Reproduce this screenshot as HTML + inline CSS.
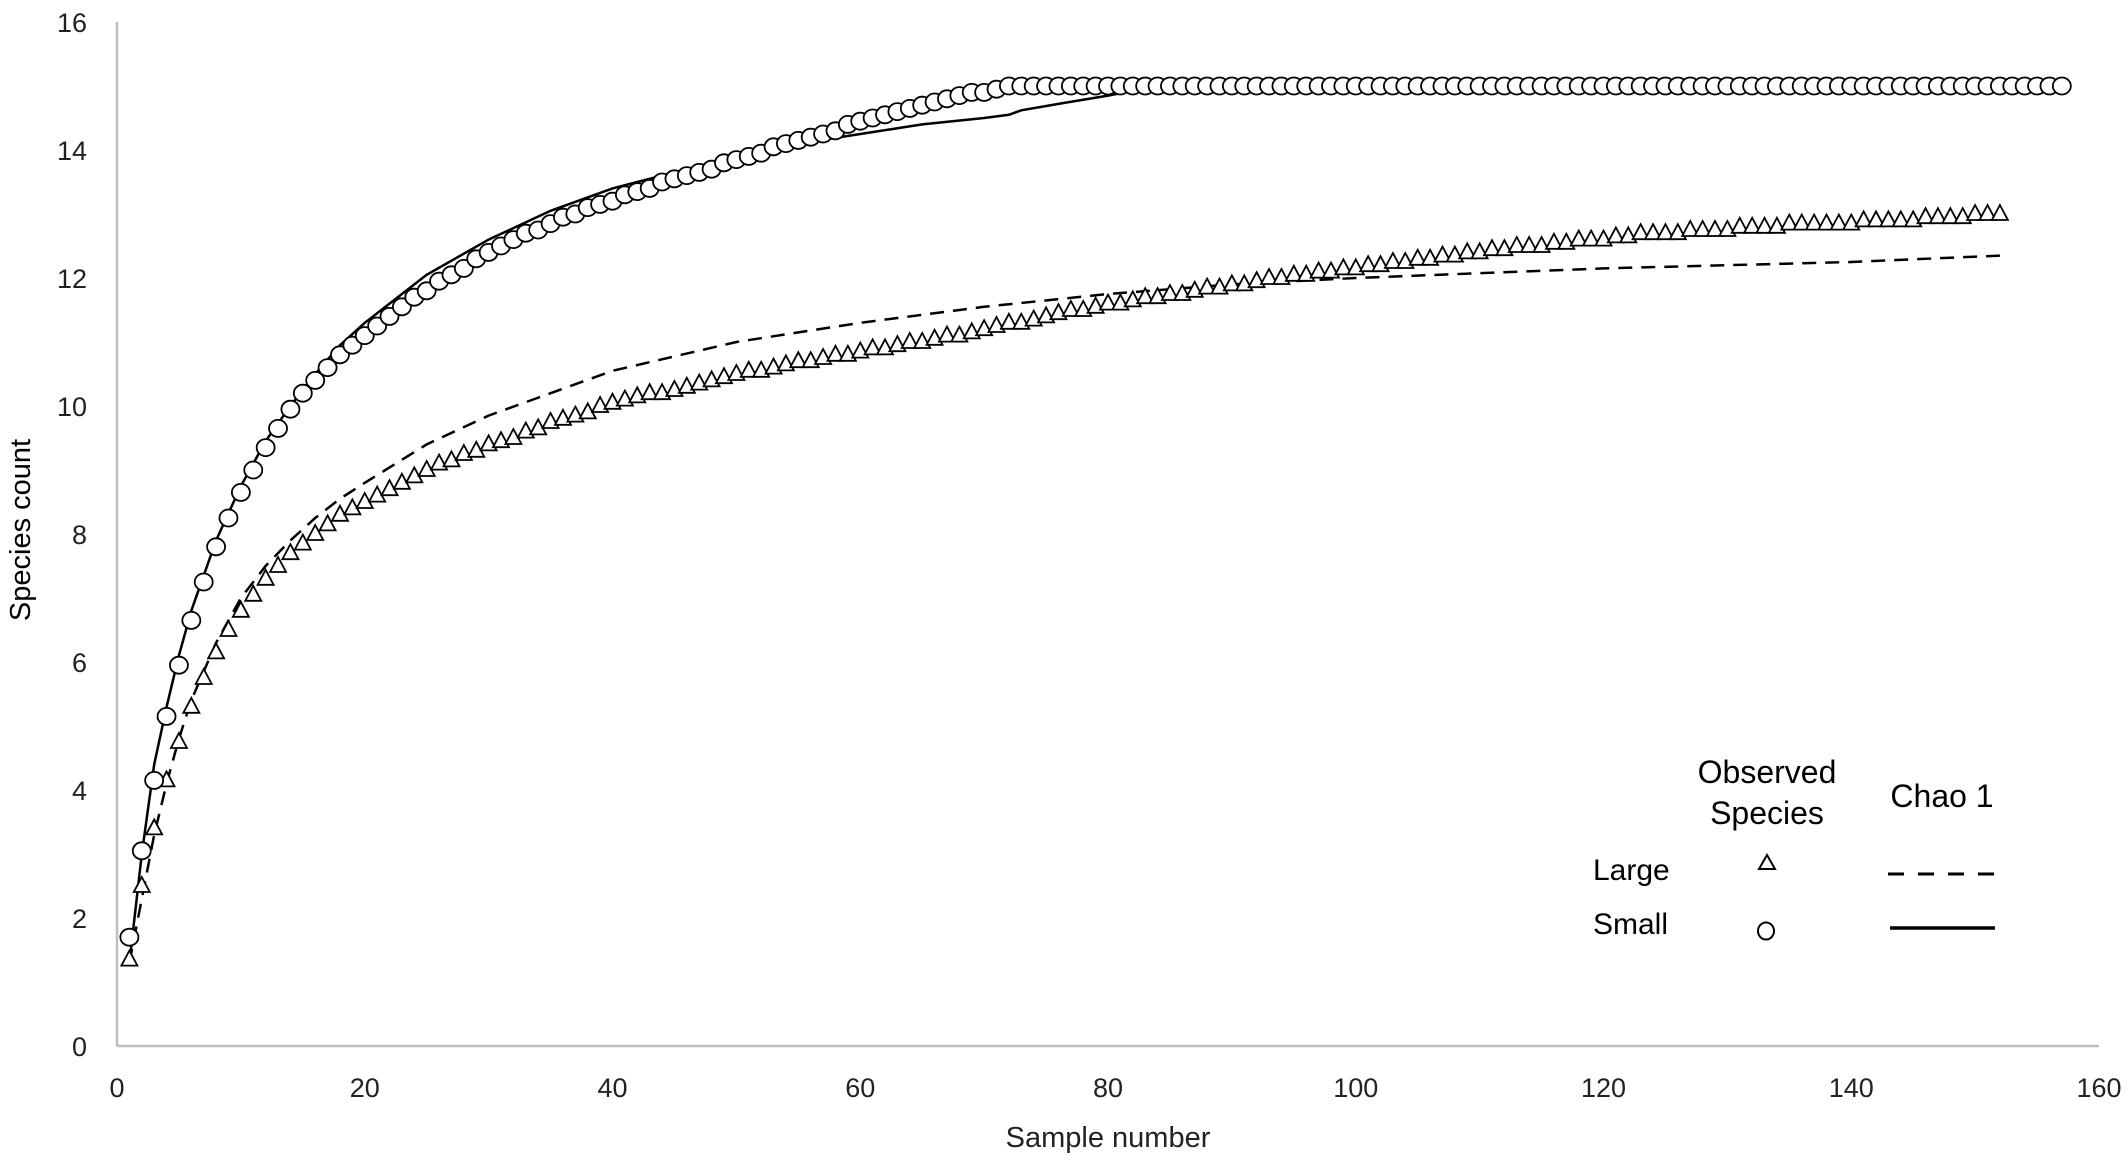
<!DOCTYPE html>
<html><head><meta charset="utf-8"><style>
html,body{margin:0;padding:0;background:#fff}
svg{display:block;font-family:"Liberation Sans",sans-serif}
</style></head><body>
<svg id="chart" width="2128" height="1163" viewBox="0 0 2128 1163" xmlns="http://www.w3.org/2000/svg">
<g id="axes"></g>
<g id="series"></g>
<text transform="translate(30,530) rotate(-90)" text-anchor="middle" font-family="Liberation Sans Narrow, Liberation Sans, sans-serif" font-size="29" fill="#000">Species count</text>
<text x="1108" y="1147" text-anchor="middle" font-size="29" fill="#222">Sample number</text>
<g font-size="32" fill="#000">
<text x="1767" y="783" text-anchor="middle">Observed</text>
<text x="1767" y="824" text-anchor="middle">Species</text>
<text x="1942" y="807" text-anchor="middle">Chao 1</text>
<text x="1593" y="880" font-size="30">Large</text>
<text x="1593" y="934" font-size="30">Small</text>
<polygon points="1767,855 1775,869 1759,869" fill="none" stroke="#000" stroke-width="2"/>
<ellipse cx="1766" cy="931" rx="8" ry="8.5" fill="none" stroke="#000" stroke-width="2"/>
<line x1="1888" y1="874" x2="1995" y2="874" stroke="#000" stroke-width="3" stroke-dasharray="16,14"/>
<line x1="1890" y1="928" x2="1995" y2="928" stroke="#000" stroke-width="3.5"/>
</g>
</svg>
<script>
const xTicks=[0,20,40,60,80,100,120,140,160];
const yTicks=[0,2,4,6,8,10,12,14,16];
const largeObs=[1.35,2.5,3.4,4.15,4.75,5.3,5.75,6.15,6.5,6.8,7.05,7.3,7.5,7.7,7.85,8.0,8.15,8.3,8.4,8.5,8.6,8.7,8.8,8.9,9.0,9.1,9.15,9.25,9.3,9.4,9.45,9.5,9.6,9.65,9.75,9.8,9.85,9.9,10.0,10.05,10.1,10.15,10.2,10.2,10.25,10.3,10.35,10.4,10.45,10.5,10.55,10.55,10.6,10.65,10.7,10.7,10.75,10.8,10.8,10.85,10.9,10.9,10.95,11.0,11.0,11.05,11.1,11.1,11.15,11.2,11.25,11.3,11.3,11.35,11.4,11.45,11.5,11.5,11.55,11.6,11.6,11.65,11.7,11.7,11.75,11.75,11.8,11.85,11.85,11.9,11.9,11.95,12.0,12.0,12.05,12.05,12.1,12.1,12.15,12.15,12.2,12.2,12.25,12.25,12.3,12.3,12.35,12.35,12.4,12.4,12.45,12.45,12.5,12.5,12.5,12.55,12.55,12.6,12.6,12.6,12.65,12.65,12.7,12.7,12.7,12.7,12.75,12.75,12.75,12.75,12.8,12.8,12.8,12.8,12.85,12.85,12.85,12.85,12.85,12.85,12.9,12.9,12.9,12.9,12.9,12.95,12.95,12.95,12.95,13.0,13.0,13.0];
const smallObs=[1.7,3.05,4.15,5.15,5.95,6.65,7.25,7.8,8.25,8.65,9.0,9.35,9.65,9.95,10.2,10.4,10.6,10.8,10.95,11.1,11.25,11.4,11.55,11.7,11.8,11.95,12.05,12.15,12.3,12.4,12.5,12.6,12.7,12.75,12.85,12.95,13.0,13.1,13.15,13.2,13.3,13.35,13.4,13.5,13.55,13.6,13.65,13.7,13.8,13.85,13.9,13.95,14.05,14.1,14.15,14.2,14.25,14.3,14.4,14.45,14.5,14.55,14.6,14.65,14.7,14.75,14.8,14.85,14.9,14.9,14.95,15,15,15,15,15,15,15,15,15,15,15,15,15,15,15,15,15,15,15,15,15,15,15,15,15,15,15,15,15,15,15,15,15,15,15,15,15,15,15,15,15,15,15,15,15,15,15,15,15,15,15,15,15,15,15,15,15,15,15,15,15,15,15,15,15,15,15,15,15,15,15,15,15,15,15,15,15,15,15,15,15,15,15,15,15,15];
const chaoLargeX=[1,2,3,4,5,6,8,10,12,14,16,18,20,25,30,40,50,60,70,80,90,100,120,140,152];
const chaoLargeY=[1.3,2.3,3.3,4.1,4.8,5.4,6.3,7.0,7.5,7.9,8.25,8.55,8.8,9.4,9.85,10.55,11.0,11.3,11.55,11.75,11.9,12.0,12.15,12.25,12.35];
const chaoSmallX=[1,2,3,4,5,6,8,10,12,14,16,18,20,25,30,35,40,45,50,55,60,65,70,72,73,76,80,84,152];
const chaoSmallY=[1.3,3.0,4.4,5.3,6.1,6.8,7.9,8.75,9.45,10.0,10.5,10.95,11.3,12.05,12.6,13.05,13.4,13.65,13.9,14.1,14.25,14.4,14.5,14.55,14.62,14.72,14.85,15,15];

const X0=117,X1=2099,Y0=1046,Y1=22;
const sx=v=>X0+(v-0)/(160-0)*(X1-X0);
const sy=v=>Y0-(v-0)/(16-0)*(Y0-Y1);
const NS='http://www.w3.org/2000/svg';
function mk(tag,attrs,parent){const e=document.createElementNS(NS,tag);for(const k in attrs)e.setAttribute(k,attrs[k]);parent.appendChild(e);return e;}
const axes=document.getElementById('axes'),series=document.getElementById('series');
let e=mk('line',{x1:X0,y1:Y1,x2:X0,y2:Y0,stroke:'#bfbfbf','stroke-width':2.5},axes);


e=mk('line',{x1:X0,y1:Y0,x2:X1,y2:Y0,stroke:'#bfbfbf','stroke-width':2.5},axes);


yTicks.forEach(t=>{const el=mk('text',{x:87,y:sy(t)+10,'text-anchor':'end','font-size':27,fill:'#222'},axes);el.textContent=t;

});
xTicks.forEach(t=>{const el=mk('text',{x:sx(t),y:1097,'text-anchor':'middle','font-size':27,fill:'#222'},axes);el.textContent=t;

});
function line(xs,ys,name,dash){const d=xs.map((x,i)=>(i?'L':'M')+sx(x).toFixed(1)+','+sy(ys[i]).toFixed(1)).join('');
const p=mk('path',{d:d,fill:'none',stroke:'#000','stroke-width':2.5},series);if(dash)p.setAttribute('stroke-dasharray',dash);

}
line(chaoLargeX,chaoLargeY,'chao1-large-line','14,9');
line(chaoSmallX,chaoSmallY,'chao1-small-line',null);
largeObs.forEach((v,i)=>{const cx=sx(i+1),cy=sy(v);
const t=mk('polygon',{points:`${cx},${cy-9} ${cx+8},${cy+6} ${cx-8},${cy+6}`,fill:'#fff',stroke:'#000','stroke-width':1.8},series);

});
smallObs.forEach((v,i)=>{const c=mk('ellipse',{cx:sx(i+1),cy:sy(v),rx:9,ry:8.5,fill:'#fff',stroke:'#000','stroke-width':1.8},series);

});
</script>
</body></html>
